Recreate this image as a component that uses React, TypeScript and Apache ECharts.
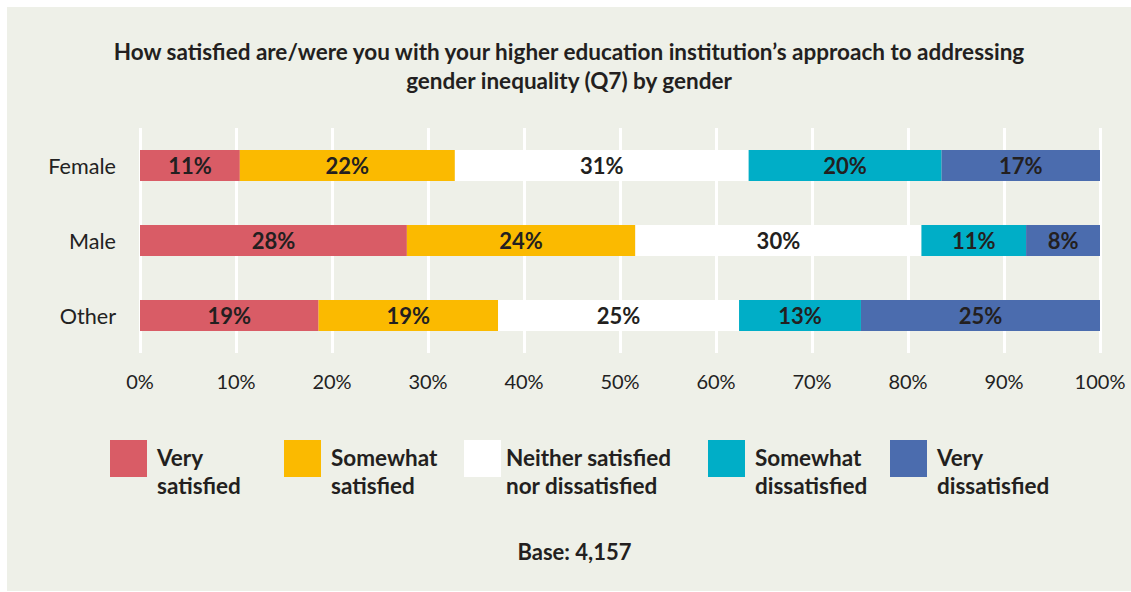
import React, { useEffect, useRef } from "react";
import * as echarts from "echarts";

const categories = ["Female", "Male", "Other"];
const seriesNames = [
  "Very satisfied",
  "Somewhat satisfied",
  "Neither satisfied nor dissatisfied",
  "Somewhat dissatisfied",
  "Very dissatisfied",
];
const legendLines = [
  ["Very", "satisfied"],
  ["Somewhat", "satisfied"],
  ["Neither satisfied", "nor dissatisfied"],
  ["Somewhat", "dissatisfied"],
  ["Very", "dissatisfied"],
];
const colors = ["#d95c66", "#fbba00", "#ffffff", "#00aec7", "#4b6cae"];
// bar widths (share of 100%) per series, per category [Female, Male, Other]
const veryS = [10.4, 27.8, 18.6];
const someS = [22.4, 23.8, 18.7];
const neither = [30.6, 29.8, 25.1];
const someD = [20.1, 10.9, 12.7];
const veryD = [16.5, 7.7, 24.9];
// printed labels
const verySLbl = [11, 28, 19];
const someSLbl = [22, 24, 19];
const neitherLbl = [31, 30, 25];
const someDLbl = [20, 11, 13];
const veryDLbl = [17, 8, 25];
const xTicks = [0, 10, 20, 30, 40, 50, 60, 70, 80, 90, 100];
const titleText =
  "How satisfied are/were you with your higher education institution\u2019s approach to addressing\ngender inequality (Q7) by gender";
const baseText = "Base: 4,157";
const legendLeft = [110, 284, 464, 708, 890];
const legendTextGap = [5, 5, 0, 5, 5];

const FONT = "Lato, 'Noto Sans', sans-serif";
const DARK = "#231f20";

export default function App() {
  const ref = useRef<HTMLDivElement>(null);
  useEffect(() => {
    if (!ref.current) return;
    const chart = echarts.init(ref.current, undefined, { renderer: "svg" });
    const values = [veryS, someS, neither, someD, veryD];
    const labels = [verySLbl, someSLbl, neitherLbl, someDLbl, veryDLbl];
    const option: any = {
      animation: false,
      backgroundColor: "#ffffff",
      textStyle: { fontFamily: FONT },
      graphic: [
        {
          type: "rect",
          z: -10,
          silent: true,
          shape: { x: 7, y: 7, width: 1124, height: 584 },
          style: { fill: "#eef0e8" },
        },
        {
          type: "text",
          x: 569,
          y: 37,
          style: {
            text: titleText,
            fill: DARK,
            font: `bold 22.5px ${FONT}`,
            lineHeight: 29,
            align: "center",
            verticalAlign: "top",
          },
        },
        {
          type: "text",
          x: 574.5,
          y: 551,
          style: {
            text: baseText,
            fill: DARK,
            font: `bold 22px ${FONT}`,
            align: "center",
            verticalAlign: "middle",
          },
        },
      ],
      grid: { left: 140, right: 31, top: 128, bottom: 239, containLabel: false },
      xAxis: {
        type: "value",
        min: 0,
        max: 100,
        interval: 10,
        axisLine: { show: false },
        axisTick: { show: false },
        splitLine: { show: true, lineStyle: { color: "#ffffff", width: 3 } },
        axisLabel: {
          color: "#222222",
          fontSize: 20,
          fontFamily: FONT,
          margin: 18,
          formatter: (v: number) => (xTicks.includes(v) ? `${v}%` : ""),
        },
      },
      yAxis: {
        type: "category",
        data: categories,
        inverse: true,
        axisLine: { show: false },
        axisTick: { show: false },
        axisLabel: { color: "#222222", fontSize: 21.6, fontFamily: FONT, margin: 24 },
      },
      legend: legendLeft.map((x, i) => ({
        data: [{ name: seriesNames[i], icon: "rect" }],
        left: x,
        top: 418,
        itemWidth: 37,
        itemHeight: 37,
        padding: 0,
        selectedMode: false,
        formatter: () =>
          `{sp|}\n{t|${legendLines[i][0]}}\n{t|${legendLines[i][1]}}`,
        textStyle: {
          color: DARK,
          fontSize: 22.5,
          fontWeight: "bold",
          fontFamily: FONT,
          rich: {
            sp: { height: 25, lineHeight: 25, fontSize: 1 },
            t: {
              color: DARK,
              fontSize: 22.5,
              fontWeight: "bold",
              fontFamily: FONT,
              lineHeight: 28,
              padding: [0, 0, 0, legendTextGap[i]],
            },
          },
        },
      })),
      series: seriesNames.map((name, i) => ({
        name,
        type: "bar",
        stack: "total",
        barWidth: 31,
        itemStyle: { color: colors[i] },
        label: {
          show: true,
          position: "inside",
          color: DARK,
          fontSize: 22,
          fontWeight: "bold",
          fontFamily: FONT,
          formatter: (p: any) => `${labels[i][p.dataIndex]}%`,
        },
        data: values[i],
      })),
    };
    chart.setOption(option);
    return () => chart.dispose();
  }, []);
  return (
    <div
      ref={ref}
      style={{ position: "fixed", left: 0, top: 0, width: 1131, height: 592 }}
    />
  );
}
